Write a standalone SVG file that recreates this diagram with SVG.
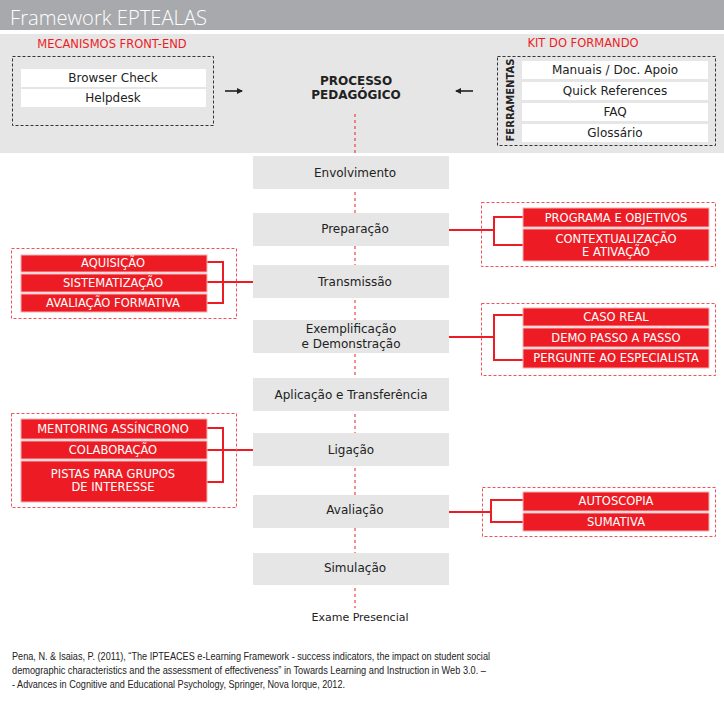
<svg xmlns="http://www.w3.org/2000/svg" width="724" height="701" viewBox="0 0 724 701">
<style>
text{font-family:"DejaVu Sans","Verdana",sans-serif}
.t{font-size:12px;fill:#222;text-anchor:middle}
.w{font-size:11.5px;fill:#fff;text-anchor:middle}
.lbl{font-size:11.5px;fill:#ed1c24;text-anchor:middle}
.step{fill:#e6e6e6}
.wrow{fill:#fff}
.rrow{fill:#ed1c24;stroke:#f7b0b3;stroke-width:1}
.dk{fill:none;stroke:#333;stroke-width:1;stroke-dasharray:3 2}
.dr{fill:none;stroke:#f0525a;stroke-width:1;stroke-dasharray:3 2}
.br{fill:none;stroke:#ed1c24;stroke-width:2}
.ar{stroke:#222;stroke-width:1.6;fill:none}
</style>
<defs>
<marker id="ah" markerWidth="6" markerHeight="6" refX="5" refY="3" orient="auto" markerUnits="userSpaceOnUse">
<path d="M0,0 L6,3 L0,6 z" fill="#222"/>
</marker>
</defs>
<rect x="0" y="0" width="724" height="30" fill="#a7a9ac"/>
<rect x="0" y="34" width="724" height="119" fill="#e6e6e6"/>
<text x="10" y="25" style="font-family:'Open Sans','DejaVu Sans',sans-serif;font-weight:300;font-size:20px;fill:#fff" textLength="197" lengthAdjust="spacingAndGlyphs">Framework EPTEALAS</text>

<g id="connectors">
<line x1="355" y1="114" x2="355" y2="608" stroke="#ed1c24" stroke-width="1" stroke-dasharray="3 3"/>
<line class="ar" x1="225" y1="91" x2="242" y2="91" marker-end="url(#ah)"/>
<line class="ar" x1="473" y1="91" x2="456" y2="91" marker-end="url(#ah)"/>
<polyline class="br" points="207,262 223,262 223,303 207,303"/>
<line class="br" x1="207" y1="282" x2="253" y2="282"/>
<polyline class="br" points="523,217 494,217 494,245 523,245"/>
<line class="br" x1="449" y1="230" x2="494" y2="230"/>
<polyline class="br" points="523,315 494,315 494,360 523,360"/>
<line class="br" x1="449" y1="337" x2="494" y2="337"/>
<polyline class="br" points="207,428 223,428 223,482 207,482"/>
<line class="br" x1="207" y1="450" x2="253" y2="450"/>
<polyline class="br" points="523,500 491,500 491,522 523,522"/>
<line class="br" x1="449" y1="512" x2="491" y2="512"/>
</g>

<g id="front-end">
<text class="lbl" x="112" y="48">MECANISMOS FRONT-END</text>
<rect class="dk" x="12.5" y="56.5" width="201" height="69"/>
<rect class="wrow" x="21" y="69" width="185" height="18"/>
<text class="t" x="113" y="82">Browser Check</text>
<rect class="wrow" x="21" y="89" width="185" height="18"/>
<text class="t" x="113" y="102">Helpdesk</text>
</g>

<g id="processo">
<text class="t" x="356" y="85" style="font-weight:bold">PROCESSO</text>
<text class="t" x="356" y="99" style="font-weight:bold">PEDAGÓGICO</text>
</g>

<g id="kit">
<text class="lbl" x="583" y="47">KIT DO FORMANDO</text>
<rect class="dk" x="497.5" y="56.5" width="218" height="89"/>
<text x="514" y="100" transform="rotate(-90 514 100)" style="font-size:10px;font-weight:bold;fill:#222;text-anchor:middle">FERRAMENTAS</text>
<rect class="wrow" x="522" y="61" width="186" height="18"/>
<text class="t" x="615" y="74">Manuais / Doc. Apoio</text>
<rect class="wrow" x="522" y="82" width="186" height="18"/>
<text class="t" x="615" y="95">Quick References</text>
<rect class="wrow" x="522" y="103" width="186" height="18"/>
<text class="t" x="615" y="116">FAQ</text>
<rect class="wrow" x="522" y="124" width="186" height="18"/>
<text class="t" x="615" y="137">Glossário</text>
</g>

<g id="envolvimento"><rect class="step" x="253" y="156" width="196" height="33"/><text class="t" x="355" y="177">Envolvimento</text></g>
<g id="preparacao"><rect class="step" x="253" y="213" width="196" height="33"/><text class="t" x="355" y="233">Preparação</text></g>
<g id="transmissao"><rect class="step" x="253" y="265" width="196" height="33"/><text class="t" x="355" y="286">Transmissão</text></g>
<g id="exemplificacao"><rect class="step" x="253" y="320" width="196" height="33"/><text class="t" x="351" y="333">Exemplificação</text><text class="t" x="351" y="348">e Demonstração</text></g>
<g id="aplicacao"><rect class="step" x="253" y="378" width="196" height="33"/><text class="t" x="351" y="399">Aplicação e Transferência</text></g>
<g id="ligacao"><rect class="step" x="253" y="433" width="196" height="33"/><text class="t" x="351" y="454">Ligação</text></g>
<g id="avaliacao"><rect class="step" x="253" y="495" width="196" height="33"/><text class="t" x="355" y="514">Avaliação</text></g>
<g id="simulacao"><rect class="step" x="253" y="553" width="196" height="32"/><text class="t" x="355" y="572">Simulação</text></g>
<g id="exame"><text class="t" x="360" y="621" style="font-size:11px">Exame Presencial</text></g>

<g id="grupo-transmissao">
<rect class="dr" x="11.5" y="248.5" width="225" height="70"/>
<rect class="rrow" x="21" y="255" width="186" height="17"/><text class="w" x="113" y="267">AQUISIÇÃO</text>
<rect class="rrow" x="21" y="274" width="186" height="18"/><text class="w" x="113" y="287">SISTEMATIZAÇÃO</text>
<rect class="rrow" x="21" y="294" width="186" height="18"/><text class="w" x="113" y="307">AVALIAÇÃO FORMATIVA</text>
</g>

<g id="grupo-preparacao">
<rect class="dr" x="481.5" y="202.5" width="234" height="64"/>
<rect class="rrow" x="523" y="208" width="186" height="19"/><text class="w" x="616" y="222">PROGRAMA E OBJETIVOS</text>
<rect class="rrow" x="523" y="229" width="186" height="32"/><text class="w" x="616" y="243">CONTEXTUALIZAÇÃO</text><text class="w" x="616" y="256">E ATIVAÇÃO</text>
</g>

<g id="grupo-exemplificacao">
<rect class="dr" x="481.5" y="303.5" width="234" height="72"/>
<rect class="rrow" x="523" y="308" width="186" height="18"/><text class="w" x="616" y="321">CASO REAL</text>
<rect class="rrow" x="523" y="328" width="186" height="19"/><text class="w" x="616" y="342">DEMO PASSO A PASSO</text>
<rect class="rrow" x="523" y="349" width="186" height="19"/><text class="w" x="616" y="362">PERGUNTE AO ESPECIALISTA</text>
</g>

<g id="grupo-ligacao">
<rect class="dr" x="11.5" y="413.5" width="225" height="94"/>
<rect class="rrow" x="21" y="419" width="186" height="20"/><text class="w" x="113" y="433">MENTORING ASSÍNCRONO</text>
<rect class="rrow" x="21" y="441" width="186" height="18"/><text class="w" x="113" y="454">COLABORAÇÃO</text>
<rect class="rrow" x="21" y="461" width="186" height="41"/><text class="w" x="113" y="478">PISTAS PARA GRUPOS</text><text class="w" x="113" y="491">DE INTERESSE</text>
</g>

<g id="grupo-avaliacao">
<rect class="dr" x="482.5" y="487.5" width="233" height="49"/>
<rect class="rrow" x="523" y="492" width="186" height="19"/><text class="w" x="616" y="505">AUTOSCOPIA</text>
<rect class="rrow" x="523" y="513" width="186" height="18"/><text class="w" x="616" y="526">SUMATIVA</text>
</g>

<g id="citation" style="font-size:11px;fill:#222">
<text x="12" y="660" style="font-family:'Liberation Sans',sans-serif" textLength="478" lengthAdjust="spacingAndGlyphs">Pena, N. &amp; Isaias, P. (2011), “The IPTEACES e-Learning Framework - success indicators, the impact on student social</text>
<text x="12" y="674" style="font-family:'Liberation Sans',sans-serif" textLength="474" lengthAdjust="spacingAndGlyphs">demographic characteristics and the assessment of effectiveness” in Towards Learning and Instruction in Web 3.0. –</text>
<text x="12" y="688" style="font-family:'Liberation Sans',sans-serif" textLength="333" lengthAdjust="spacingAndGlyphs">- Advances in Cognitive and Educational Psychology, Springer, Nova Iorque, 2012.</text>
</g>
</svg>
